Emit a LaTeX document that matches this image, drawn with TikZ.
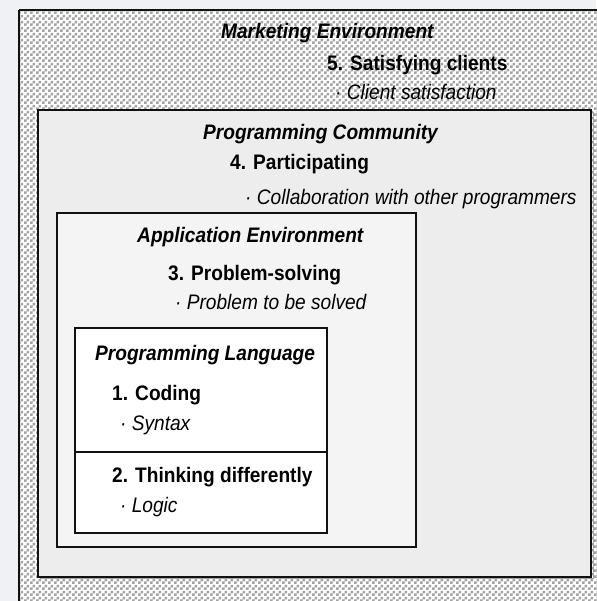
\documentclass[tikz,border=0pt]{standalone}
\usepackage{fontspec}
\setmainfont{Liberation Sans}[FakeStretch=0.91]
\usetikzlibrary{patterns}
\pgfdeclarepatternformonly{mycheck}{\pgfpointorigin}{\pgfqpoint{6pt}{6pt}}{\pgfqpoint{6pt}{6pt}}{%
  \pgfpathrectangle{\pgfpointorigin}{\pgfqpoint{3pt}{3pt}}%
  \pgfpathrectangle{\pgfqpoint{3pt}{3pt}}{\pgfqpoint{3pt}{3pt}}%
  \pgfusepath{fill}}
\definecolor{bgpage}{HTML}{F0F1F5}
\definecolor{fillpc}{HTML}{EDEDED}
\definecolor{fillae}{HTML}{F4F4F4}
\definecolor{edge}{HTML}{111111}
\begin{document}
\begin{tikzpicture}[x=1pt,y=-1pt,
  txt/.style={anchor=base west,inner sep=0pt,font=\fontsize{21}{25}\selectfont},
  ttl/.style={txt,font=\fontsize{21}{25}\selectfont\bfseries\itshape},
  itm/.style={txt,font=\fontsize{21}{25}\selectfont\bfseries},
  sub/.style={txt,font=\fontsize{21}{25}\selectfont\itshape},
  frame/.style={draw=edge}]
\fill[bgpage] (0,0) rectangle (596,601);
\useasboundingbox (0,0) rectangle (596,601);
% outer: marketing environment
\fill[white] (19,10) rectangle (600,605);
\fill[pattern=mycheck,pattern color=gray!72] (19,10) rectangle (600,605);
\draw[frame,line width=2.5pt] (19,10) -- (600,10);
\draw[frame,line width=2.5pt] (19,10) -- (19,605);
% programming community
\draw[gray!70,line width=1pt] (40,578.5) -- (593.5,578.5) -- (593.5,112);
\draw[frame,fill=fillpc,line width=2pt] (38,110) rectangle (591,577);
% application environment
\draw[frame,fill=fillae,line width=1.6pt] (57,213) rectangle (416,547);
% programming language
\draw[frame,fill=white,line width=1.6pt] (75,328) rectangle (327,533);
\draw[frame,line width=1.6pt] (75,452) -- (327,452);
% texts
\node[ttl] (mkt) at (221,39) {Marketing Environment};
\node[itm] (s5) at (327,71) {5. Satisfying clients};
\node[sub] (s5a) at (335,100) {· Client satisfaction};
\node[ttl] (pc) at (203,140) {Programming Community};
\node[itm] (s4) at (230,170) {4. Participating};
\node[sub] (s4a) at (245,205) {· Collaboration with other programmers};
\node[ttl] (ae) at (137,243) {Application Environment};
\node[itm] (s3) at (168,280) {3. Problem-solving};
\node[sub] (s3a) at (175,309) {· Problem to be solved};
\node[ttl] (pl) at (95,360) {Programming Language};
\node[itm] (s1) at (112,400) {1. Coding};
\node[sub] (s1a) at (120,430) {· Syntax};
\node[itm] (s2) at (112,482) {2. Thinking differently};
\node[sub] (s2a) at (120,512) {· Logic};
\end{tikzpicture}
\end{document}
